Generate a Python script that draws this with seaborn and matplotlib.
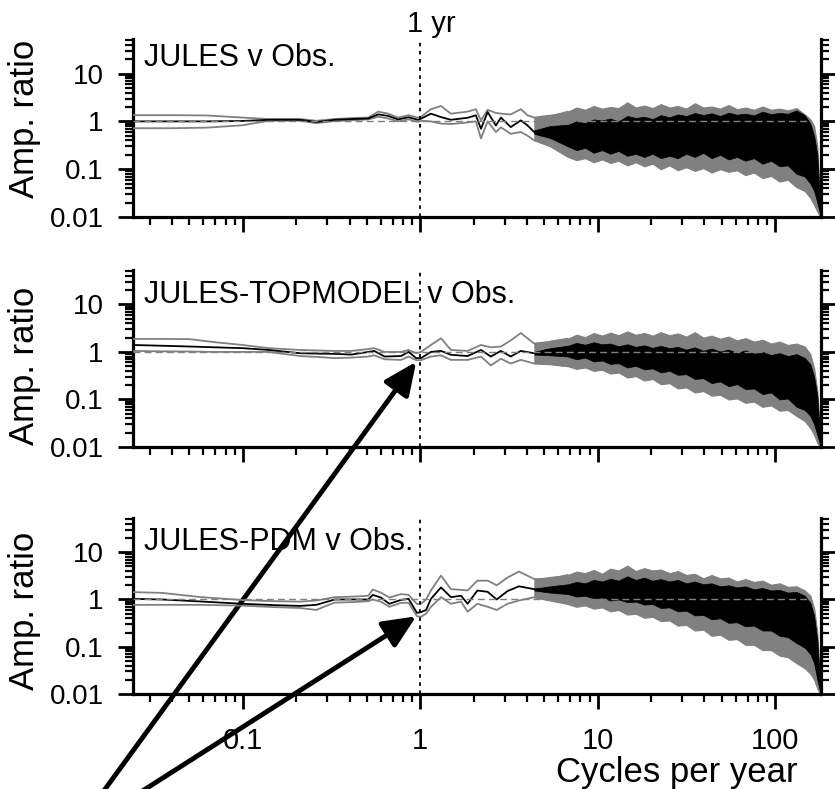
import numpy as np
import pandas as pd
import matplotlib
matplotlib.use('Agg')
import matplotlib.pyplot as plt
from matplotlib.ticker import LogLocator, NullFormatter
import seaborn as sns

sns.set_theme(style='ticks')
plt.rcParams['font.family'] = ['Liberation Sans', 'DejaVu Sans']
plt.rcParams['axes.linewidth'] = 2.3
for key in ['text.color', 'axes.labelcolor', 'xtick.color', 'ytick.color', 'axes.edgecolor']:
    plt.rcParams[key] = 'black'

GREY = '#808080'

titles = ['JULES v Obs.', 'JULES-TOPMODEL v Obs.', 'JULES-PDM v Obs.']
ytick_vals = [0.01, 0.1, 1, 10]
ytick_labels = ['0.01', '0.1', '1', '10']
xtick_vals = [0.1, 1, 10, 100]
xtick_labels = ['0.1', '1', '10', '100']

# ---- low frequencies: median ratio (black) and bounds (grey) ----
jules_f = [0.024, 0.04, 0.063, 0.1, 0.14, 0.21, 0.26, 0.33, 0.42, 0.51, 0.58, 0.66, 0.75, 0.86, 0.97, 1.01, 1.15,
           1.31, 1.49, 1.85, 2.06, 2.2, 2.4, 2.67, 2.85, 3.24, 3.69, 4.03, 4.39, 4.78, 5.2, 5.67, 6.2, 6.8]
jules_med = [1.0, 1.0, 1.0, 1.02, 1.08, 1.08, 0.97, 1.08, 1.12, 1.15, 1.4, 1.3, 1.1, 1.22, 1.08, 1.14, 1.45,
             1.23, 1.08, 1.19, 1.34, 0.70, 1.57, 0.82, 1.2, 0.76, 1.05, 0.82, 0.6, 0.51, 0.7, 0.6, 0.68, 0.6]
jules_up = [1.35, 1.35, 1.33, 1.2, 1.12, 1.12, 1.03, 1.12, 1.18, 1.2, 1.6, 1.45, 1.2, 1.35, 1.2, 1.25, 1.8,
            2.1, 1.45, 1.6, 1.8, 1.05, 1.75, 1.5, 1.45, 1.4, 1.8, 1.34, 1.2, 1.25, 1.3, 1.34, 1.45, 1.6]
jules_lo = [0.72, 0.72, 0.74, 0.83, 1.03, 1.03, 0.92, 1.02, 1.06, 1.1, 1.25, 1.15, 1.0, 1.1, 0.98, 1.03, 1.0,
            0.9, 0.88, 0.95, 1.0, 0.44, 1.0, 0.6, 0.75, 0.55, 0.6, 0.5, 0.4, 0.4, 0.35, 0.3, 0.3, 0.25]

topm_f = [0.024, 0.035, 0.05, 0.07, 0.1, 0.14, 0.21, 0.27, 0.33, 0.41, 0.51, 0.55, 0.63, 0.78, 0.86, 0.95, 1.01,
          1.15, 1.31, 1.49, 1.85, 2.2, 2.5, 2.85, 3.24, 3.69, 4.39, 5.2, 6.2, 6.8]
topm_med = [1.4, 1.35, 1.3, 1.25, 1.2, 1.1, 0.94, 0.92, 0.91, 0.88, 1.0, 1.05, 0.8, 0.82, 1.0, 0.74, 0.74,
            1.0, 1.05, 0.87, 0.82, 1.1, 0.8, 1.05, 0.8, 1.05, 0.94, 1.1, 1.13, 1.1]
topm_up = [1.88, 1.88, 1.86, 1.6, 1.4, 1.2, 1.1, 1.07, 1.05, 1.05, 1.15, 1.2, 1.0, 1.0, 1.1, 0.94, 1.0,
           1.4, 1.94, 1.1, 1.05, 1.4, 1.25, 1.3, 1.75, 2.5, 1.5, 1.6, 1.8, 1.9]
topm_lo = [1.05, 1.03, 1.02, 1.0, 1.0, 1.0, 0.82, 0.78, 0.74, 0.76, 0.8, 0.85, 0.7, 0.68, 0.8, 0.67, 0.67,
           0.8, 0.85, 0.68, 0.68, 0.8, 0.52, 0.72, 0.57, 0.68, 0.57, 0.62, 0.52, 0.5]

pdm_f = [0.024, 0.035, 0.057, 0.1, 0.15, 0.21, 0.26, 0.3, 0.33, 0.42, 0.51, 0.54, 0.6, 0.67, 0.78, 0.86, 0.96,
         1.01, 1.08, 1.15, 1.31, 1.49, 1.7, 1.85, 2.1, 2.4, 2.7, 3.1, 3.6, 4.4, 5.4, 6.8]
pdm_med = [1.03, 1.0, 0.91, 0.81, 0.76, 0.73, 0.77, 0.9, 1.0, 1.0, 1.0, 1.25, 1.1, 0.81, 0.98, 1.03, 0.52,
           0.54, 0.6, 1.03, 1.8, 1.12, 1.2, 0.81, 1.55, 1.45, 1.0, 1.5, 1.9, 1.65, 1.6, 1.8]
pdm_up = [1.43, 1.38, 1.13, 0.97, 0.92, 0.9, 0.95, 1.05, 1.12, 1.15, 1.2, 1.62, 1.4, 1.1, 1.3, 1.25, 0.8,
          0.81, 1.0, 1.55, 3.2, 1.65, 1.6, 1.55, 2.5, 2.5, 2.0, 2.9, 3.9, 2.7, 2.7, 3.3]
pdm_lo = [0.77, 0.77, 0.77, 0.74, 0.69, 0.66, 0.6, 0.75, 0.86, 0.88, 0.92, 1.0, 0.9, 0.7, 0.85, 0.85, 0.44,
          0.43, 0.5, 0.7, 1.12, 0.81, 0.9, 0.55, 0.81, 0.7, 0.6, 0.81, 0.95, 1.12, 1.05, 1.0]

# ---- high frequencies: envelopes of the noisy black and grey traces ----
band_f = [4.4, 5.4, 6.8, 7.6, 8.5, 9.5, 10.6, 11.8, 13.1, 14.7, 16.4, 18.3, 20.4, 22.7, 25.4, 28.3, 31.6, 35.3,
          39.4, 43.9, 49, 54.7, 61, 68, 76, 85, 95, 106, 118, 132, 147, 158, 166, 173, 181]

jules_btop = [0.65, 0.8, 0.85, 1.0, 0.92, 1.1, 1.05, 1.15, 1.0, 1.3, 1.18, 1.25, 1.12, 1.35, 1.22, 1.4, 1.3, 1.5,
              1.36, 1.48, 1.3, 1.52, 1.38, 1.45, 1.34, 1.6, 1.42, 1.5, 1.45, 1.7, 1.35, 0.9, 0.5, 0.2, 0.01]
jules_bbot = [0.55, 0.45, 0.3, 0.25, 0.28, 0.22, 0.25, 0.21, 0.24, 0.19, 0.21, 0.18, 0.21, 0.17, 0.19, 0.17, 0.21, 0.18,
              0.22, 0.17, 0.2, 0.16, 0.18, 0.15, 0.17, 0.13, 0.15, 0.115, 0.12, 0.08, 0.07, 0.05, 0.035, 0.02, 0.01]
jules_gtop = [1.2, 1.35, 1.6, 1.95, 1.75, 2.1, 1.85, 2.0, 1.9, 2.5, 1.95, 2.15, 1.9, 2.3, 1.95, 2.1, 1.85, 2.4,
              1.95, 2.05, 1.85, 2.2, 1.8, 1.95, 1.75, 2.05, 1.75, 1.85, 1.7, 1.9, 1.4, 1.1, 0.8, 0.3, 0.01]
jules_gbot = [0.4, 0.3, 0.18, 0.155, 0.17, 0.14, 0.16, 0.135, 0.15, 0.12, 0.14, 0.115, 0.13, 0.1, 0.12, 0.095, 0.11,
              0.092, 0.105, 0.085, 0.1, 0.088, 0.095, 0.075, 0.085, 0.065, 0.072, 0.055, 0.06, 0.042, 0.035, 0.025,
              0.018, 0.013, 0.0095]

topm_btop = [1.0, 1.2, 1.35, 1.55, 1.42, 1.6, 1.45, 1.5, 1.32, 1.45, 1.28, 1.38, 1.22, 1.35, 1.2, 1.28, 1.12, 1.25,
             1.06, 1.18, 1.02, 1.12, 0.96, 1.08, 0.92, 1.0, 0.86, 0.95, 0.82, 0.9, 0.75, 0.55, 0.3, 0.12, 0.01]
topm_bbot = [0.88, 0.85, 0.8, 0.7, 0.76, 0.63, 0.66, 0.56, 0.58, 0.47, 0.51, 0.43, 0.45, 0.37, 0.4, 0.33, 0.34, 0.27,
             0.28, 0.22, 0.24, 0.19, 0.21, 0.165, 0.17, 0.13, 0.14, 0.1, 0.105, 0.07, 0.06, 0.045, 0.03, 0.018, 0.01]
topm_gtop = [1.5, 1.7, 1.9, 2.3, 2.05, 2.5, 2.2, 2.55, 2.25, 2.7, 2.3, 2.5, 2.2, 2.6, 2.25, 2.45, 2.1, 2.6,
             2.0, 2.2, 1.9, 2.1, 1.75, 1.95, 1.65, 1.8, 1.5, 1.65, 1.4, 1.5, 1.3, 0.9, 0.45, 0.15, 0.01]
topm_gbot = [0.57, 0.55, 0.5, 0.44, 0.47, 0.4, 0.42, 0.35, 0.37, 0.29, 0.31, 0.25, 0.27, 0.21, 0.22, 0.17, 0.18, 0.14,
             0.15, 0.12, 0.125, 0.1, 0.105, 0.085, 0.09, 0.07, 0.075, 0.058, 0.06, 0.045, 0.035, 0.025, 0.018, 0.012,
             0.0095]

pdm_btop = [1.7, 1.9, 2.1, 2.35, 2.2, 2.6, 2.4, 2.75, 2.5, 3.1, 2.6, 2.9, 2.5, 2.7, 2.4, 2.6, 2.2, 2.4,
            2.1, 2.2, 1.9, 2.0, 1.8, 1.9, 1.65, 1.75, 1.55, 1.6, 1.4, 1.45, 1.2, 0.85, 0.45, 0.14, 0.01]
pdm_bbot = [1.55, 1.4, 1.3, 1.15, 1.2, 1.05, 1.1, 0.95, 1.0, 0.88, 0.9, 0.78, 0.8, 0.66, 0.68, 0.56, 0.58, 0.46,
            0.47, 0.38, 0.4, 0.32, 0.33, 0.27, 0.28, 0.22, 0.22, 0.17, 0.16, 0.12, 0.095, 0.07, 0.045, 0.02, 0.01]
pdm_gtop = [2.7, 3.0, 3.3, 3.9, 3.6, 4.2, 3.5, 4.5, 4.1, 5.2, 4.0, 4.6, 4.1, 4.3, 3.6, 4.0, 3.3, 3.5,
            2.8, 3.3, 2.8, 2.9, 2.4, 2.7, 2.35, 2.5, 2.05, 2.2, 1.85, 1.9, 1.55, 1.2, 0.65, 0.2, 0.01]
pdm_gbot = [1.1, 0.95, 0.8, 0.7, 0.75, 0.64, 0.68, 0.56, 0.6, 0.48, 0.5, 0.41, 0.43, 0.35, 0.36, 0.28, 0.29, 0.22,
            0.23, 0.17, 0.18, 0.14, 0.145, 0.11, 0.11, 0.085, 0.085, 0.065, 0.06, 0.045, 0.035, 0.027, 0.02, 0.013,
            0.0095]

# arrow tips (frequency, ratio) in panels 2 and 3
tip_topm = (0.95, 0.62)
tip_pdm = (0.95, 0.44)

XLIM = (0.024, 181)
YLIM = (0.01, 53)
UNITY_END = 160

panels = [
    (jules_f, jules_med, jules_up, jules_lo, jules_btop, jules_bbot, jules_gtop, jules_gbot),
    (topm_f, topm_med, topm_up, topm_lo, topm_btop, topm_bbot, topm_gtop, topm_gbot),
    (pdm_f, pdm_med, pdm_up, pdm_lo, pdm_btop, pdm_bbot, pdm_gtop, pdm_gbot),
]
boxes = [[0.159, 0.725, 0.824, 0.2256], [0.159, 0.4335, 0.824, 0.2243], [0.159, 0.1204, 0.824, 0.2231]]
title_y = [0.848, 0.814, 0.818]
ylabel_y = [0.55, 0.46, 0.47]

fig = plt.figure(figsize=(8.35, 7.89), dpi=100)
axes = []
for i, (f, med, up, lo, btop, bbot, gtop, gbot) in enumerate(panels):
    ax = fig.add_axes(boxes[i])
    ax.set_xscale('log')
    ax.set_yscale('log')

    ax.fill_between(band_f, gbot, gtop, color=GREY, lw=0.8, zorder=2)
    ax.fill_between(band_f, bbot, btop, color='black', lw=0.5, zorder=3)
    df = pd.DataFrame({'f': f, 'med': med, 'up': up, 'lo': lo})
    sns.lineplot(data=df, x='f', y='up', color=GREY, lw=1.3, ax=ax, zorder=4)
    sns.lineplot(data=df, x='f', y='lo', color=GREY, lw=1.3, ax=ax, zorder=4)
    sns.lineplot(data=df, x='f', y='med', color='black', lw=1.3, ax=ax, zorder=5)

    ax.hlines(1, XLIM[0], UNITY_END, colors=GREY, linestyles=(0, (5, 3)), lw=1.0, zorder=6)
    ax.axvline(1, color='black', ls=(0, (2, 2.5)), lw=1.3, zorder=7)

    ax.set_xlim(*XLIM)
    ax.set_ylim(*YLIM)
    ax.set_yticks(ytick_vals)
    ax.set_yticklabels(ytick_labels)
    ax.set_xticks(xtick_vals)
    ax.set_xticklabels(xtick_labels)
    ax.yaxis.set_minor_locator(LogLocator(base=10, subs=np.arange(2, 10), numticks=20))
    ax.xaxis.set_minor_locator(LogLocator(base=10, subs=np.arange(2, 10), numticks=20))
    ax.yaxis.set_minor_formatter(NullFormatter())
    ax.xaxis.set_minor_formatter(NullFormatter())
    ax.tick_params(which='both', direction='out', right=True, top=False)
    ax.tick_params(which='major', length=11, width=2.0)
    ax.tick_params(which='minor', length=5.5, width=1.6)
    ax.tick_params(axis='y', labelsize=20, pad=10)
    ax.tick_params(axis='x', labelsize=21, pad=13)
    ax.spines['top'].set_visible(False)
    ax.set_facecolor('none')

    ax.set_ylabel('Amp. ratio', fontsize=25)
    ax.yaxis.set_label_coords(-0.133, ylabel_y[i])
    ax.text(0.016, title_y[i], titles[i], transform=ax.transAxes, fontsize=22, va='baseline', ha='left')
    if i < 2:
        ax.set_xlabel('')
        ax.tick_params(labelbottom=False)
    axes.append(ax)

axes[0].annotate('1 yr', xy=(1, 1), xycoords=('data', 'axes fraction'), xytext=(8, 5),
                 textcoords='offset points', ha='center', va='baseline', fontsize=21)

ax3 = axes[2]
ax3.set_xlabel('Cycles per year', fontsize=25, va='top')
ax3.xaxis.set_label_coords(0.79, -0.35)

arrow = dict(arrowstyle='-|>,head_length=1.0,head_width=0.45', lw=3.5, color='black',
             mutation_scale=20, shrinkA=0, shrinkB=0)
ax3.annotate('', xy=tip_topm, xycoords=axes[1].transData, xytext=(0.117, -0.013),
             textcoords='figure fraction', arrowprops=arrow, annotation_clip=False)
ax3.annotate('', xy=tip_pdm, xycoords='data', xytext=(0.155, -0.013),
             textcoords='figure fraction', arrowprops=arrow, annotation_clip=False)

fig.savefig('out.png', dpi=100, facecolor='white')
